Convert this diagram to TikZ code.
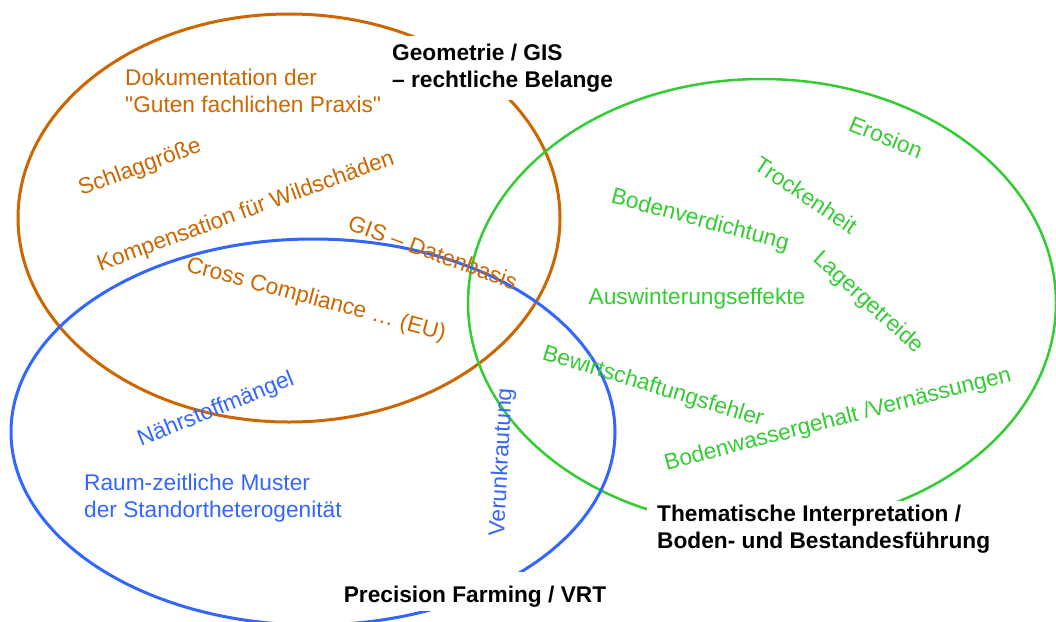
\documentclass[tikz,border=0pt]{standalone}
\usepackage{fontspec}
\setmainfont{Liberation Sans}[Ligatures=TeXOff]
\definecolor{geoorange}{RGB}{204,102,0}
\definecolor{pfblue}{RGB}{51,102,255}
\definecolor{thgreen}{RGB}{51,204,51}

\begin{document}
\begin{tikzpicture}[x=1pt,y=-1pt,
    every node/.style={font=\fontsize{22.7}{27}\selectfont, inner sep=0pt},
    geo/.style={text=geoorange},
    pf/.style={text=pfblue},
    them/.style={text=thgreen},
    title/.style={font=\fontsize{22.7}{27}\selectfont\bfseries, fill=white, align=left}]
  \useasboundingbox (0,0) rectangle (1056,621);

  % the three fields
  \draw [geoorange, line width=3pt] (289,218) ellipse (271pt and 204pt);
  \draw [thgreen, line width=2.5pt] (762,303) ellipse (294pt and 224pt);
  \draw [pfblue, line width=3pt] (313,432) ellipse (302pt and 193pt);

  % Geometrie / GIS
  \node [geo, anchor=west, align=left] (doku) at (125,91) {Dokumentation der\\"Guten fachlichen Praxis"};
  \node [geo, rotate=20] (schlag) at (140,168) {Schlaggröße};
  \node [geo, rotate=20] (wild) at (246,212) {Kompensation für Wildschäden};
  \node [geo, rotate=-20] (gisdb) at (433,252) {GIS – Datenbasis};
  \node [geo, rotate=-15] (cc) at (316,300) {Cross Compliance … (EU)};

  % Precision Farming
  \node [pf, rotate=22] (naehr) at (216,410) {Nährstoffmängel};
  \node [pf, anchor=west, align=left] (muster) at (84,498) {Raum-zeitliche Muster\\der Standortheterogenität};
  \node [pf, rotate=87] (verunk) at (502,462) {Verunkrautung};

  % Thematische Interpretation
  \node [them, rotate=-22] (erosion) at (886,137) {Erosion};
  \node [them, rotate=-34] (trocken) at (806,195) {Trockenheit};
  \node [them, rotate=-15] (verdicht) at (700,221) {Bodenverdichtung};
  \node [them, rotate=-42] (lager) at (868,303) {Lagergetreide};
  \node [them] (auswint) at (697,299) {Auswinterungseffekte};
  \node [them, rotate=-17] (bewirt) at (653,387) {Bewirtschaftungsfehler};
  \node [them, rotate=14.5] (wasser) at (838,420) {Bodenwassergehalt /Vernässungen};

  % titles
  \node [title, anchor=north west, inner xsep=7pt, inner ysep=8pt] (geotitle) at (385,36) {Geometrie / GIS\\– rechtliche Belange};
  \node [title, anchor=north west, inner xsep=10pt, inner ysep=4pt] (themtitle) at (647,501) {Thematische Interpretation /\\Boden- und Bestandesführung};
  \node [title, anchor=base, inner xsep=6pt, inner ysep=4pt, text height=26pt] (pftitle) at (475,602) {Precision Farming / VRT};
\end{tikzpicture}
\end{document}
